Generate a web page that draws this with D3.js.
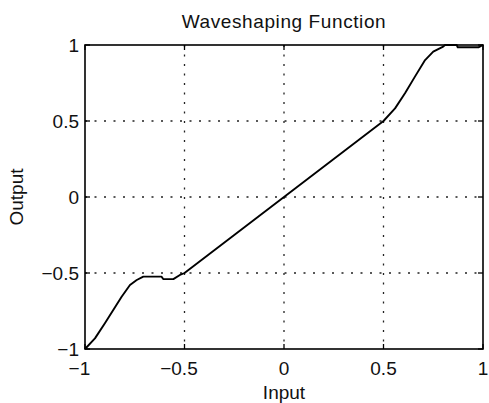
<!DOCTYPE html>
<html>
<head>
<meta charset="utf-8">
<script src="https://cdn.jsdelivr.net/npm/d3@7"></script>
<style>
  body { margin: 0; background: #fff; }
  text { font-family: "Liberation Sans", Arial, sans-serif; fill: #111; }
</style>
</head>
<body>
<div id="chart"></div>
<script>
// curve (input -> output)
const inputVals = [-1, -0.95, -0.9, -0.858, -0.816, -0.774, -0.74, -0.707, -0.615, -0.607,
  -0.556, -0.523, -0.5, -0.25, 0, 0.25, 0.5, 0.558, 0.608, 0.658, 0.709, 0.75, 0.8, 0.809,
  0.868, 0.873, 0.977, 1];
const outputVals = [-1, -0.93, -0.83, -0.743, -0.656, -0.579, -0.546, -0.524, -0.524, -0.54,
  -0.54, -0.513, -0.5, -0.25, 0, 0.25, 0.5, 0.583, 0.682, 0.792, 0.901, 0.956, 0.989, 1,
  1, 0.985, 0.985, 1];
const ticks = [-1, -0.5, 0, 0.5, 1];
const gridTicks = [-0.5, 0, 0.5];

const width = 489, height = 403;
const margin = { top: 45, right: 6, bottom: 54, left: 85 };

const svg = d3.select("#chart")
  .append("svg")
  .attr("width", width)
  .attr("height", height);

const x = d3.scaleLinear().domain([-1, 1]).range([margin.left, width - margin.right]);
const y = d3.scaleLinear().domain([-1, 1]).range([height - margin.bottom, margin.top]);

const fontSize = 19;

// grid
svg.append("g")
  .selectAll("line")
  .data(gridTicks)
  .enter()
  .append("line")
  .attr("x1", d => x(d)).attr("x2", d => x(d))
  .attr("y1", y(1)).attr("y2", y(-1))
  .attr("stroke", "#222").attr("stroke-width", 1.3)
  .attr("stroke-dasharray", "2,7.5");
svg.append("g")
  .selectAll("line")
  .data(gridTicks)
  .enter()
  .append("line")
  .attr("y1", d => y(d)).attr("y2", d => y(d))
  .attr("x1", x(-1)).attr("x2", x(1))
  .attr("stroke", "#222").attr("stroke-width", 1.3)
  .attr("stroke-dasharray", "2,7.5");

// inward ticks on all four sides
const tickLen = 5;
const tk = svg.append("g").attr("stroke", "#000").attr("stroke-width", 1.3);
ticks.forEach(t => {
  tk.append("line").attr("x1", x(t)).attr("x2", x(t)).attr("y1", y(-1)).attr("y2", y(-1) - tickLen);
  tk.append("line").attr("x1", x(t)).attr("x2", x(t)).attr("y1", y(1)).attr("y2", y(1) + tickLen);
  tk.append("line").attr("y1", y(t)).attr("y2", y(t)).attr("x1", x(-1)).attr("x2", x(-1) + tickLen);
  tk.append("line").attr("y1", y(t)).attr("y2", y(t)).attr("x1", x(1)).attr("x2", x(1) - tickLen);
});

// curve
const pts = inputVals.map((v, i) => [v, outputVals[i]]);
const line = d3.line()
  .x(d => x(d[0]))
  .y(d => y(d[1]));
svg.append("path")
  .datum(pts)
  .attr("d", line)
  .attr("fill", "none")
  .attr("stroke", "#000")
  .attr("stroke-width", 1.9)
  .attr("stroke-linejoin", "round");

// box
svg.append("rect")
  .attr("x", x(-1)).attr("y", y(1))
  .attr("width", x(1) - x(-1)).attr("height", y(-1) - y(1))
  .attr("fill", "none").attr("stroke", "#000").attr("stroke-width", 1.6);

const fmt = d => String(Math.abs(d));

// x tick labels: number centred on tick, minus hangs to the left
ticks.forEach(t => {
  const lbl = svg.append("text")
    .attr("x", x(t)).attr("y", 375)
    .attr("text-anchor", "middle")
    .attr("font-size", fontSize)
    .text(fmt(t));
  if (t < 0) {
    const w = lbl.node().getComputedTextLength();
    svg.append("text")
      .attr("x", x(t) - w / 2).attr("y", 375)
      .attr("text-anchor", "end")
      .attr("font-size", fontSize)
      .text("\u2212");
  }
});

// y tick labels
svg.append("g")
  .selectAll("text")
  .data(ticks)
  .enter()
  .append("text")
  .attr("x", 79)
  .attr("y", d => y(d))
  .attr("dy", "0.35em")
  .attr("text-anchor", "end")
  .attr("font-size", fontSize)
  .text(d => (d < 0 ? "\u2212" : "") + fmt(d));

// titles
svg.append("text")
  .attr("x", 284).attr("y", 28)
  .attr("text-anchor", "middle")
  .attr("font-size", fontSize)
  .attr("letter-spacing", 0.6)
  .text("Waveshaping Function");

svg.append("text")
  .attr("x", 284).attr("y", 399)
  .attr("text-anchor", "middle")
  .attr("font-size", fontSize)
  .text("Input");

svg.append("text")
  .attr("transform", `translate(23,${y(0)}) rotate(-90)`)
  .attr("text-anchor", "middle")
  .attr("font-size", fontSize)
  .text("Output");
</script>
</body>
</html>
